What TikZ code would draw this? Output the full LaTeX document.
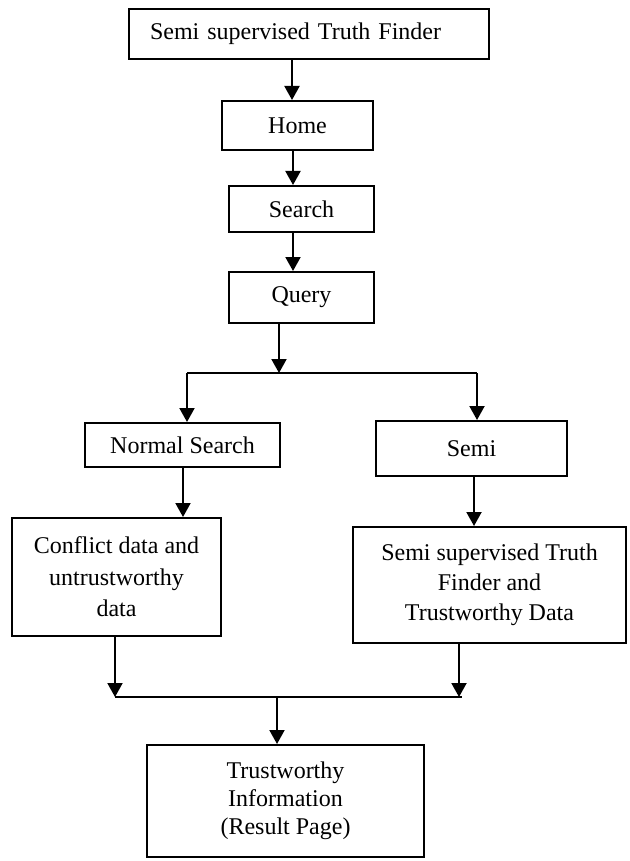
\documentclass[tikz,border=0pt]{standalone}
\usepackage{fontspec}
\setmainfont{Liberation Serif}
\usetikzlibrary{arrows.meta}

\begin{document}
\begin{tikzpicture}
[x=0.5pt, y=-0.5pt,
 FlowBox/.style={rectangle,
    draw=black, line width=1pt, align=center,
    font=\fontsize{12}{15.5}\selectfont, inner sep=0pt},
 FlowArrow/.style={line width=1pt, -{Triangle[width=7.5pt,length=7pt]}},
 FlowLine/.style={line width=1pt}]
\useasboundingbox (0,0) rectangle (629,861);

% boxes
\node[FlowBox, text width=159pt, inner xsep=10.5pt, align=left,
      minimum height=25pt] (start) at (309,34) {Semi supervised Truth Finder};
\node[FlowBox, minimum width=75.5pt, minimum height=24.5pt] (home) at (297.5,125.5) {Home};
\node[FlowBox, minimum width=72.5pt, minimum height=23pt] (search) at (301.5,209) {Search};
\node[FlowBox, minimum width=72.5pt, minimum height=25.5pt] (query) at (301.5,297.5) {Query};
\node[FlowBox, minimum width=97.5pt, minimum height=22pt] (normal) at (182.5,445) {Normal Search};
\node[FlowBox, minimum width=95.5pt, minimum height=27.5pt] (semi) at (471.5,448.5) {Semi};
\node[FlowBox, minimum width=104.5pt, minimum height=59pt,
      font=\fontsize{12}{15.75}\selectfont] (conflict) at (116.5,577)
      {Conflict data and\\untrustworthy\\data};
\node[FlowBox, minimum width=136.5pt, minimum height=58pt,
      font=\fontsize{12}{15}\selectfont] (semitf) at (489.5,585)
      {Semi supervised Truth\\Finder and\\Trustworthy Data};
\node[FlowBox, minimum width=138.5pt, minimum height=56pt,
      font=\fontsize{12}{14}\selectfont] (result) at (285.5,801)
      {Trustworthy\\Information\\(Result Page)};

% columns and junctions
\coordinate (colA) at (292,0);
\coordinate (colB) at (293,0);
\coordinate (colC) at (183,0);
\coordinate (colD) at (474,0);
\coordinate (splitC) at (279,373);
\coordinate (splitL) at (187,373);
\coordinate (splitR) at (477,373);
\coordinate (mergeL) at (115,697);
\coordinate (mergeR) at (462,697);
\coordinate (mergeC) at (277,697);

% connectors
\draw[FlowArrow] (start.south -| colA) -- (home.north -| colA);
\draw[FlowArrow] (home.south -| colB) -- (search.north -| colB);
\draw[FlowArrow] (search.south -| colB) -- (query.north -| colB);
\draw[FlowArrow] (query.south -| splitC) -- (splitC);
\draw[FlowLine] (splitL) -- (splitR);
\draw[FlowArrow] (splitL) -- (normal.north -| splitL);
\draw[FlowArrow] (splitR) -- (semi.north -| splitR);
\draw[FlowArrow] (normal.south -| colC) -- (conflict.north -| colC);
\draw[FlowArrow] (semi.south -| colD) -- (semitf.north -| colD);
\draw[FlowArrow] (conflict.south -| mergeL) -- (mergeL);
\draw[FlowArrow] ([xshift=-1.5pt]semitf.south -| mergeR) -- ([xshift=-1.5pt]mergeR);
\draw[FlowLine] (mergeL) -- (mergeR);
\draw[FlowArrow] (mergeC) -- (result.north -| mergeC);
\end{tikzpicture}
\end{document}
